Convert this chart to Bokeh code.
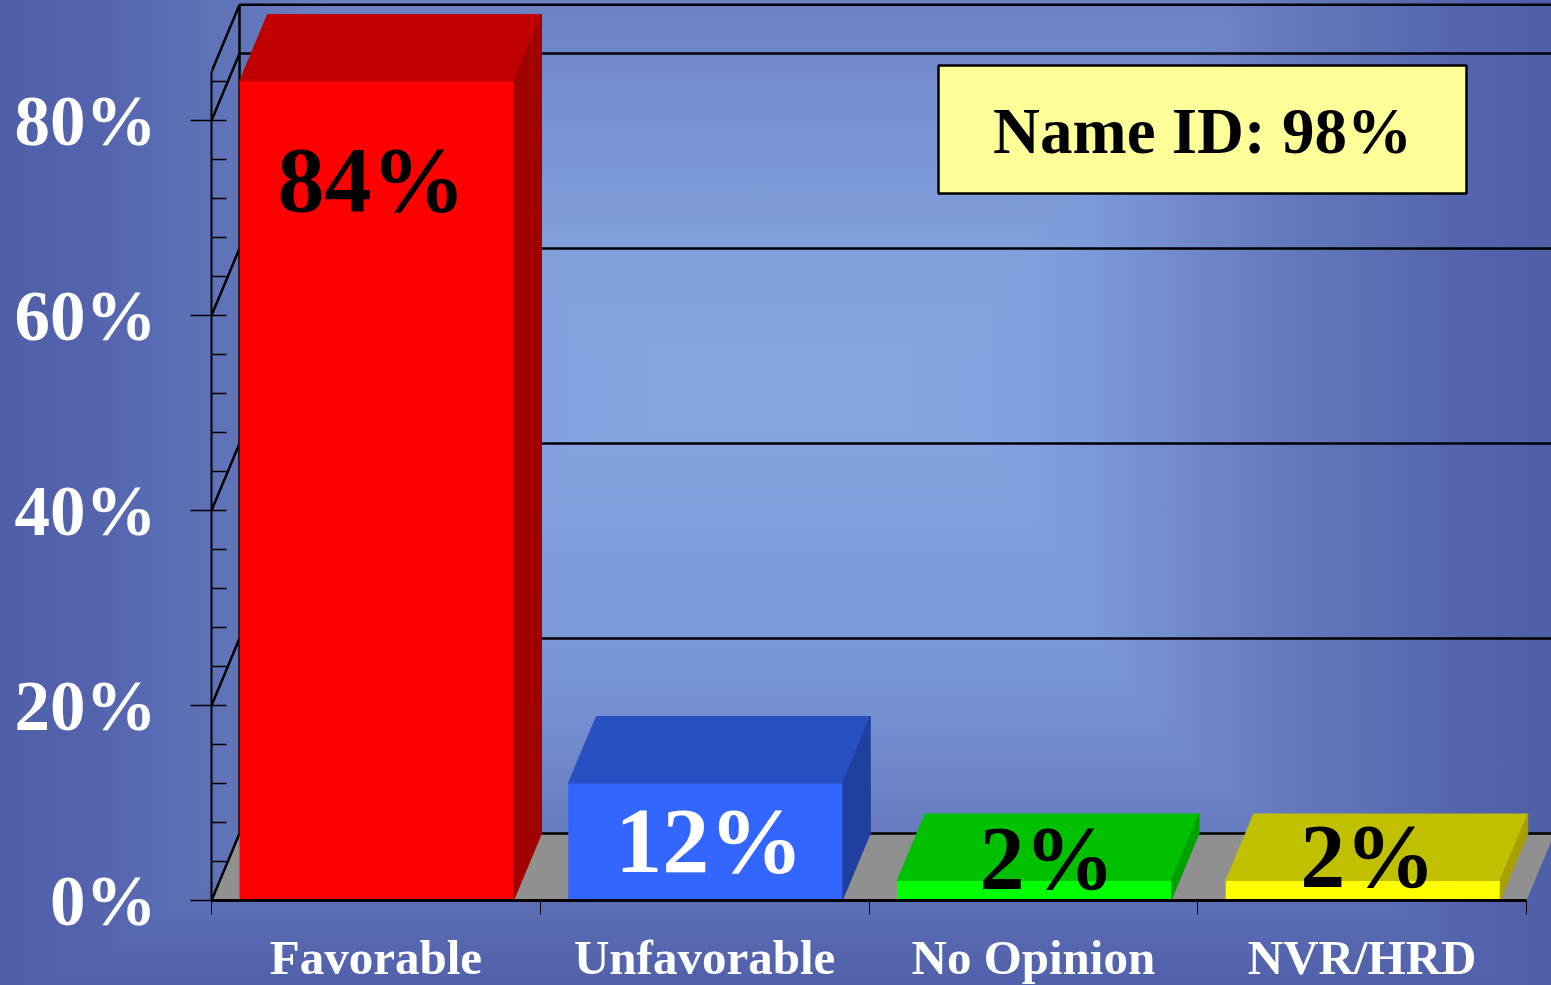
from bokeh.plotting import figure
from bokeh.models import Range1d, FixedTicker
from bokeh.core.properties import value
from bokeh.embed import file_html
from bokeh.resources import INLINE

categories = ["Favorable", "Unfavorable", "No Opinion", "NVR/HRD"]
values = [84, 12, 2, 2]
value_labels = ["84%", "12%", "2%", "2%"]
label_colors = ["#000000", "#ffffff", "#000000", "#000000"]
front_colors = ["#ff0000", "#3366ff", "#00ff00", "#ffff00"]
top_colors = ["#c00000", "#2850c0", "#00c000", "#c0c000"]
side_colors = ["#a00000", "#2040a0", "#00a000", "#a8a000"]
y_major = [0, 20, 40, 60, 80]
y_minor = [4, 8, 12, 16, 24, 28, 32, 36, 44, 48, 52, 56, 64, 68, 72, 76, 84]
y_top = 85
name_id_text = "Name ID: 98%"

W, H = 1551, 985
LEFT, BASE = 211, 900
X_UNIT, Y_UNIT = 328.75, 9.75
DX, DY = 28 / X_UNIT, 67 / Y_UNIT
BAR_W = 274 / X_UNIT
FONT = "Liberation Serif"
BL = 0.355  # baseline correction of the text glyph, in em

def sx(px):
    return (px - LEFT) / X_UNIT

def sy(py):
    return (BASE - py) / Y_UNIT

H_FADE = ("linear-gradient(to right, #4f5fa8 0px, #5262ac 80px, #5e72b7 210px, #677dbf 300px, "
          "#7089cb 370px, #7c99d9 470px, #84a2df 570px, #87a5e0 780px, #84a2df 990px, "
          "#7c99d9 1090px, #7089cb 1190px, #677dbf 1260px, #5e72b7 1350px, #5262ac 1480px, "
          "#4f5fa8 1551px)")
V_FADE = ("linear-gradient(to bottom, #6a80c0 0px, #7590d0 100px, #82a0dc 250px, #87a5e0 400px, "
          "#7b98d8 640px, #738fcf 720px, #6d85c6 780px, #5a6cb3 915px, #5060aa 985px)")

p = figure(width=W, height=H, frame_width=W - LEFT, frame_height=BASE,
           output_backend="svg", toolbar_location=None,
           x_range=Range1d(0, sx(W)), y_range=Range1d(0, sy(0)),
           min_border_left=LEFT, min_border_bottom=H - BASE,
           min_border_top=0, min_border_right=0,
           border_fill_alpha=0, background_fill_alpha=0, outline_line_color=None)
p.styles = {"position": "fixed", "left": "0", "top": "0",
            "background-color": "#87a6e0",
            "background-image": H_FADE + ", " + V_FADE,
            "background-blend-mode": "darken, normal"}
p.grid.visible = False

# Floor
p.patch([0, 4, 4 + DX, DX], [0, 0, DY, DY], fill_color="#909090", line_color=None)

# Back wall grid, side wall diagonals, back corner
levels = y_major[1:] + [y_top]
p.segment([DX] * len(levels), [v + DY for v in levels], [sx(W)] * len(levels),
          [v + DY for v in levels], line_color="#000000", line_width=2.5)
p.segment([DX], [DY], [sx(W)], [DY], line_color="#000000", line_width=2.5)
diag = y_major + [y_top]
p.segment([0] * len(diag), diag, [DX] * len(diag), [v + DY for v in diag],
          line_color="#000000", line_width=2.5)
p.segment([DX], [DY], [DX], [y_top + DY], line_color="#000000", line_width=2.5)

# 3D bars
lefts = [i + DX for i in range(len(values))]
rights = [l + BAR_W for l in lefts]
p.patches([[l, r, r + DX, l + DX] for l, r in zip(lefts, rights)],
          [[v, v, v + DY, v + DY] for v in values],
          fill_color=top_colors, line_color=top_colors, line_width=1)
p.patches([[r, r + DX, r + DX, r] for r in rights],
          [[0, DY, v + DY, v] for v in values],
          fill_color=side_colors, line_color=side_colors, line_width=1)
p.quad(left=lefts, right=rights, bottom=[0] * 4, top=values,
       fill_color=front_colors, line_color=None)

# Value labels
label_x_off = [-5, 4, 13, 5]
label_y_off = [131, 90, 9.5, 7.5]
label_size = [94, 94, 90, 90]
for i in range(4):
    p.text([(lefts[i] + rights[i]) / 2], [values[i]], text=[value_labels[i]],
           text_color=label_colors[i], text_font=value(FONT), text_font_style="bold",
           text_font_size=f"{label_size[i]}px", text_align="center", text_baseline="alphabetic",
           x_offset=label_x_off[i], y_offset=label_y_off[i] - BL * label_size[i])

# Callout
p.quad(left=[sx(938)], right=[sx(1466)], top=[sy(65)], bottom=[sy(193)],
       fill_color="#ffff99", line_color="#000000", line_width=2.5)
p.text([sx(1202)], [sy(154)], text=[name_id_text], text_color="#000000",
       text_font=value(FONT), text_font_style="bold", text_font_size="65px",
       text_align="center", text_baseline="alphabetic", y_offset=-BL * 65)

# Axes
ya = p.yaxis[0]
ya.bounds = (0, y_top)
ya.ticker = FixedTicker(ticks=y_major, minor_ticks=y_minor)
ya.major_label_overrides = {v: f"{v}%" for v in y_major}
ya.axis_line_color = "#000000"
ya.axis_line_width = 2
ya.major_tick_line_color = "#000000"
ya.major_tick_line_width = 1.5
ya.major_tick_out = 21
ya.major_tick_in = 15
ya.minor_tick_line_color = "#000000"
ya.minor_tick_line_width = 1.5
ya.minor_tick_out = 0
ya.minor_tick_in = 15
ya.major_label_standoff = 34
ya.major_label_text_font = FONT
ya.major_label_text_font_style = "bold"
ya.major_label_text_font_size = "71px"
ya.major_label_text_color = "#ffffff"

xa = p.xaxis[0]
xa.bounds = (0, 4)
centers = [i + 0.5 for i in range(4)]
xa.ticker = FixedTicker(ticks=centers, minor_ticks=[0, 1, 2, 3, 4])
xa.major_label_overrides = {c: n for c, n in zip(centers, categories)}
xa.axis_line_color = "#000000"
xa.axis_line_width = 3
xa.major_tick_line_color = None
xa.major_tick_out = 0
xa.major_tick_in = 0
xa.minor_tick_line_color = "#000000"
xa.minor_tick_line_width = 1
xa.minor_tick_out = 14
xa.minor_tick_in = 0
xa.major_label_standoff = 15
xa.major_label_text_font = FONT
xa.major_label_text_font_style = "bold"
xa.major_label_text_font_size = "49px"
xa.major_label_text_color = "#ffffff"

open("out.html", "w").write(file_html(p, INLINE))
